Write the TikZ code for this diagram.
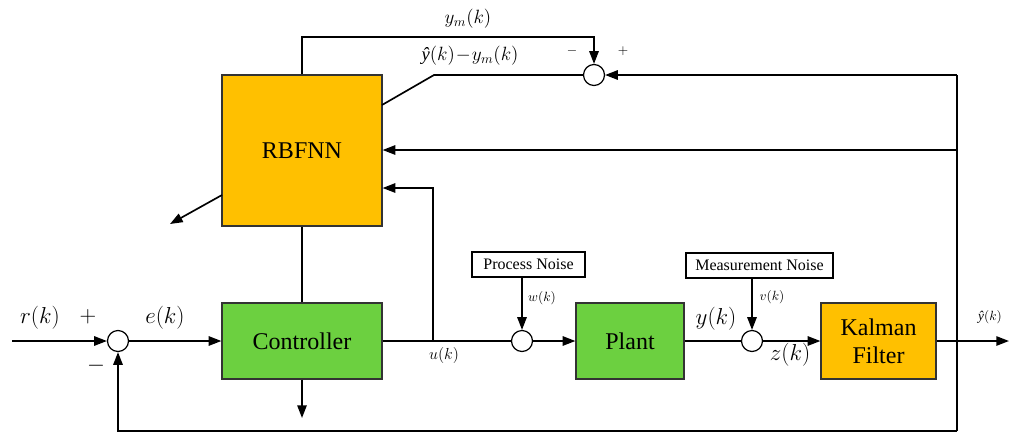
\documentclass[tikz,border=0pt]{standalone}
\usepackage{fontspec}
\setmainfont{Liberation Serif}
\usetikzlibrary{arrows.meta}
\definecolor{boxorange}{RGB}{255,192,0}
\definecolor{boxgreen}{RGB}{108,208,64}
\begin{document}
\begin{tikzpicture}[x=0.75pt,y=-0.75pt,
  line width=1.25pt,
  >={Triangle[length=9.5pt,width=7pt]},
  blk/.style={draw=black!80,line width=0.9pt,inner sep=0pt,font=\fontsize{18}{21}\selectfont,align=center},
  obox/.style={blk,fill=boxorange},
  gbox/.style={blk,fill=boxgreen},
  nbox/.style={draw=black,line width=0.9pt,fill=white,inner sep=0pt,font=\fontsize{12}{14}\selectfont},
  sumj/.style={circle,draw=black,line width=0.9pt,fill=white,minimum size=15.75pt,inner sep=0pt},
  biglab/.style={font=\fontsize{17}{20}\selectfont},
  midlab/.style={font=\fontsize{14}{16}\selectfont},
  smlab/.style={font=\fontsize{10}{12}\selectfont}
]
\useasboundingbox (0,0) rectangle (1010,433);

% blocks
\node[obox,minimum width=120pt,minimum height=113.25pt] (rbf) at (302,150.5) {RBFNN};
\node[gbox,minimum width=120pt,minimum height=57pt] (ctrl) at (302,341) {Controller};
\node[gbox,minimum width=81pt,minimum height=57pt] (plant) at (630,341) {Plant};
\node[obox,minimum width=86.25pt,minimum height=57pt] (kf) at (878.5,341) {Kalman\\Filter};
\node[nbox,minimum width=84.75pt,minimum height=18.75pt] (pn) at (528.5,264.5) {Process Noise};
\node[nbox,minimum width=110.25pt,minimum height=18.75pt] (mn) at (759.5,265.5) {Measurement Noise};

% summing junctions
\node[sumj] (j1) at (118,341) {};
\node[sumj] (j2) at (522,341) {};
\node[sumj] (j3) at (752,341) {};
\node[sumj] (j0) at (594,75) {};

% helper coordinates
\coordinate (in) at (12,341);
\coordinate (ubr) at (433,341);
\coordinate (uup) at (433,188);
\coordinate (cdown) at (302,418);
\coordinate (out) at (1009,341);
\coordinate (vtop) at (957,75);
\coordinate (vmid) at (957,150);
\coordinate (vbot) at (957,431);
\coordinate (fbl) at (118,431);
\coordinate (ymtl) at (302,37);
\coordinate (ymtr) at (594,37);
\coordinate (dk) at (434,75);
\coordinate (dkend) at (382,105);
\coordinate (rbfo) at (222,195);
\coordinate (rbfoe) at (170,224);

% connectors
\draw[->] (in) -- (j1.west);
\draw[->] (j1.east) -- (ctrl.west);
\draw (ctrl.east) -- (j2.west);
\draw[->] (j2.east) -- (plant.west);
\draw[->] (ubr) -- (uup) -- (rbf.east |- uup);
\draw (ctrl.north) -- (rbf.south);
\draw[->] (ctrl.south) -- (cdown);
\draw[->] (j2 |- pn.south) -- (j2.north);
\draw (plant.east) -- (j3.west);
\draw[->] (j3 |- mn.south) -- (j3.north);
\draw[->] (j3.east) -- (kf.west);
\draw[->] (kf.east) -- (out);
\draw (vtop) -- (vbot);
\draw[->] (vtop) -- (j0.east);
\draw[->] (vmid) -- (rbf.east |- vmid);
\draw[->] (vbot) -- (fbl) -- (j1.south);
\draw[->] (rbf.north) -- (ymtl) -- (ymtr) -- (j0.north);
\draw (j0.west) -- (dk) -- (dkend);
\draw[->] (rbfo) -- (rbfoe);

% labels
\node[biglab] (lr) at (40,318) {$r(k)$};
\node[biglab] (lplus) at (88,317) {$+$};
\node[biglab] (le) at (165,318) {$e(k)$};
\node[biglab] (lminus) at (96,366) {$-$};
\node[font=\fontsize{13}{15}\selectfont] (lu) at (444,355) {$u(k)$};
\node[smlab] (lw) at (542,298) {$w(k)$};
\node[smlab] (lv) at (772,297) {$v(k)$};
\node[biglab] (ly) at (716,319) {$y(k)$};
\node[biglab] (lz) at (790,355) {$z(k)$};
\node[smlab] (lyh) at (990,317) {\textit{ŷ}$(k)$};
\node[midlab] (lym) at (468,19) {$y_m(k)$};
\node[midlab] (lerr) at (470,56) {\textit{ŷ}$(k)\!-\!y_m(k)$};
\node[smlab] (lm0) at (572,51) {$-$};
\node[smlab] (lp0) at (623,51) {$+$};
\end{tikzpicture}
\end{document}
